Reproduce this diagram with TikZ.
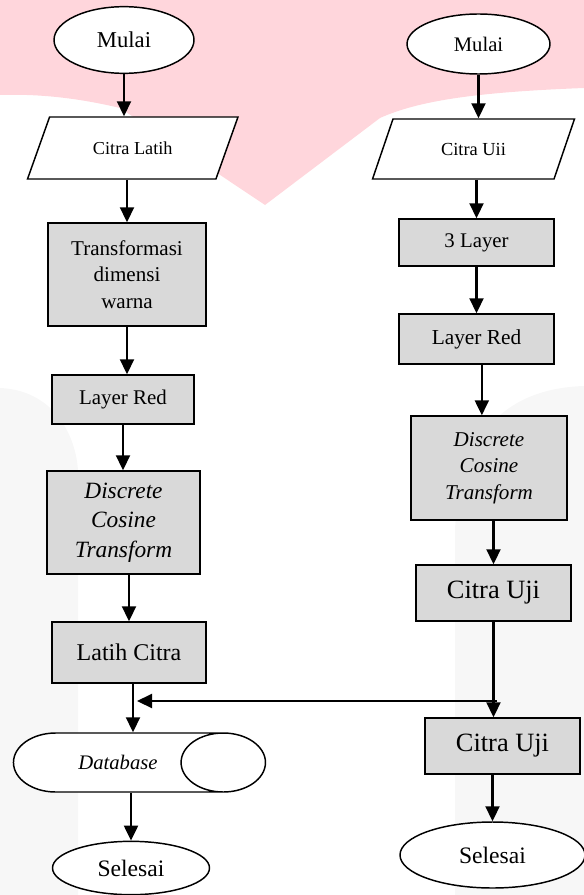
\documentclass[tikz,border=0pt]{standalone}
\usepackage{fontspec}
\setmainfont{Liberation Serif}
\usetikzlibrary{shapes.geometric,arrows.meta,calc}

\definecolor{wmpink}{RGB}{255,214,220}
\definecolor{wmgray}{RGB}{247,247,247}
\definecolor{boxgray}{RGB}{217,217,217}

\tikzset{every picture/.style={line width=0.75pt}}
\tikzset{
  terminal/.style={ellipse, draw, fill=white, line width=1.1pt, inner sep=0pt},
  process/.style={rectangle, draw, fill=boxgray, line width=1.1pt, inner sep=0pt, align=center},
  inout/.style={trapezium, trapezium stretches=true, draw, fill=white, line width=1.1pt, inner sep=0pt},
  store/.style={cylinder, draw, fill=white, line width=1.1pt, inner sep=0pt},
  flow/.style={line width=1.6pt, -{Triangle[length=11.25pt,width=10.5pt]}},
}
\newcommand{\fs}[2]{\fontsize{#1}{#2}\selectfont}

\begin{document}
\begin{tikzpicture}[x=0.75pt,y=0.75pt,yscale=-1,xscale=1]
\useasboundingbox (0,0) rectangle (584,895);

%Shape: Watermark
\fill [wmpink] (0,0) -- (584,0) -- (584,88) .. controls (480,92) and (420,100) .. (380,118) -- (265,205) -- (120,108) .. controls (70,96) and (30,94) .. (0,95) -- cycle ;
\fill [wmgray] (0,388) .. controls (50,390) and (75,430) .. (78,470) -- (78,895) -- (0,895) -- cycle ;
\fill [wmgray] (584,386) .. controls (520,388) and (460,420) .. (455,530) -- (455,895) -- (584,895) -- cycle ;

%Shape: Ellipse
\node [terminal, minimum width=105pt, minimum height=50pt, font=\fs{17}{20}] (mulaiL) at (124,40) {Mulai};
%Shape: Parallelogram
\node [inout, trapezium left angle=50.6, trapezium right angle=129.4, minimum width=158.25pt, minimum height=46.5pt, font=\fs{13.7}{16}] (citraLatih) at (132.75,148) {Citra Latih};
%Shape: Rectangle
\node [process, minimum width=118.5pt, minimum height=77.25pt, font=\fs{15.8}{20}] (transf) at (127,274.5) {Transformasi\\dimensi\\warna};
%Shape: Rectangle
\node [process, minimum width=106.5pt, minimum height=36.75pt, font=\fs{15.7}{19}] (redL) at (123,399.5) {Layer Red};
%Shape: Rectangle
\node [process, minimum width=114.75pt, minimum height=77.25pt, font=\fs{17.5}{22}\itshape] (dctL) at (123.5,522.5) {Discrete\\Cosine\\Transform};
%Shape: Rectangle
\node [process, minimum width=115.5pt, minimum height=45.75pt, font=\fs{18}{21}] (latihCitra) at (129,652.5) {Latih Citra};
%Shape: Database
\node [store, aspect=5.8, minimum height=189pt, minimum width=44.25pt, font=\fs{15.5}{18}\itshape] (database) at (118,762.5) {Database};
%Shape: Ellipse
\node [terminal, minimum width=117.75pt, minimum height=40pt, font=\fs{17.7}{20}] (selesaiL) at (131,868) {Selesai};

%Shape: Ellipse
\node [terminal, minimum width=107.25pt, minimum height=45pt, font=\fs{15.5}{18}] (mulaiR) at (478.5,44) {Mulai};
%Shape: Parallelogram
\node [inout, trapezium left angle=56.3, trapezium right angle=123.7, minimum width=152.25pt, minimum height=45pt, font=\fs{13.8}{16}] (citraUii) at (473.5,149) {Citra Uii};
%Shape: Rectangle
\node [process, minimum width=116.25pt, minimum height=35.25pt, font=\fs{15.6}{19}] (tigaLayer) at (476.5,242.5) {3 Layer};
%Shape: Rectangle
\node [process, minimum width=116.25pt, minimum height=37.5pt, font=\fs{16}{19}] (redR) at (476.5,339) {Layer Red};
%Shape: Rectangle
\node [process, minimum width=117pt, minimum height=78pt, font=\fs{15.8}{19.7}\itshape] (dctR) at (489,468) {Discrete\\Cosine\\Transform};
%Shape: Rectangle
\node [process, minimum width=116.25pt, minimum height=42pt, font=\fs{19.8}{22}] (citraUji) at (493.5,593) {Citra Uji};
%Shape: Rectangle
\node [process, minimum width=116.25pt, minimum height=42pt, font=\fs{19.8}{22}] (citraUjiB) at (502.5,746) {Citra Uji};
%Shape: Ellipse
\node [terminal, minimum width=138.75pt, minimum height=49.5pt, font=\fs{17.7}{20}] (selesaiR) at (492.5,855) {Selesai};

%Straight Lines
\draw [flow] (mulaiL.south) -- (mulaiL.south |- citraLatih.north) ;
\draw [flow] (transf.north |- citraLatih.south) -- (transf.north) ;
\draw [flow] (transf.south) -- (transf.south |- redL.north) ;
\draw [flow] (redL.south) -- (redL.south |- dctL.north) ;
\draw [flow] (latihCitra.north |- dctL.south) -- (latihCitra.north) ;
\draw [flow] ([xshift=3pt]latihCitra.south) -- ([xshift=3pt]latihCitra.south |- database.north) ;
\draw [flow] (selesaiL.north |- database.south) -- (selesaiL.north) ;

\draw [flow] (mulaiR.south) -- (mulaiR.south |- citraUii.north) ;
\draw [flow] (tigaLayer.north |- citraUii.south) -- (tigaLayer.north) ;
\draw [flow] (tigaLayer.south) -- (tigaLayer.south |- redR.north) ;
\draw [flow] ([xshift=4pt]redR.south) -- ([xshift=4pt]redR.south |- dctR.north) ;
\draw [flow] (citraUji.north |- dctR.south) -- (citraUji.north) ;
\draw [flow] (citraUji.south) -- (citraUji.south |- citraUjiB.north) ;
\draw [flow] (selesaiR.north |- citraUjiB.south) -- (selesaiR.north) ;

% Merge line
\coordinate (tapR) at (497,701) ;
\coordinate (tapL) at (137,701) ;
\draw [flow] (tapR) -- (tapL) ;
\end{tikzpicture}
\end{document}
